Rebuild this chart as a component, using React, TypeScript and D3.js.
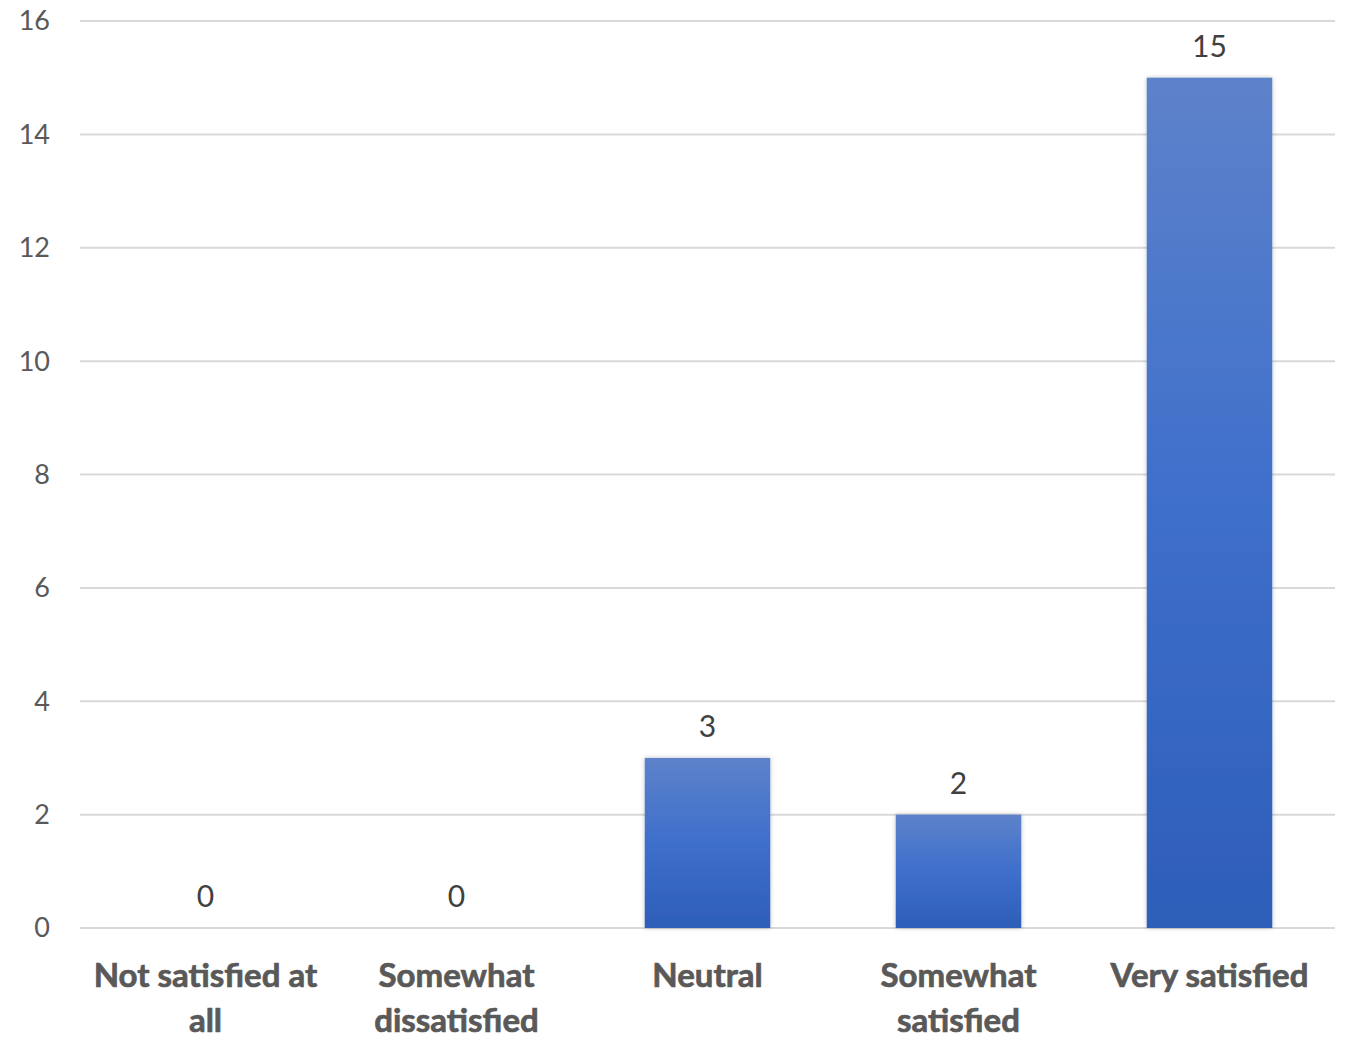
import { useEffect } from 'react';
import * as d3 from 'd3';

const categories = ['Not satisfied at all', 'Somewhat dissatisfied', 'Neutral', 'Somewhat satisfied', 'Very satisfied'];
const categoryLines = [['Not satisfied at', 'all'], ['Somewhat', 'dissatisfied'], ['Neutral'], ['Somewhat', 'satisfied'], ['Very satisfied']];
const counts = [0, 0, 3, 2, 15];
const yTicks = [0, 2, 4, 6, 8, 10, 12, 14, 16];

const W = 1348;
const H = 1038;
const M = { top: 21, right: 13, bottom: 110, left: 80 };
const FONT = 'Lato, "Open Sans", sans-serif';

export default function App() {
  useEffect(() => {
    document.body.style.margin = '0';
  }, []);

  const x = d3
    .scaleBand<string>()
    .domain(categories)
    .range([M.left, W - M.right])
    .paddingInner(0.5)
    .paddingOuter(0.25);
  const y = d3.scaleLinear().domain([0, 16]).range([H - M.bottom, M.top]);

  return (
    <svg width={W} height={H} style={{ display: 'block', background: '#fff' }}>
      <defs>
        <linearGradient id="barGrad" x1="0" y1="0" x2="0" y2="1">
          <stop offset="0%" stopColor="#5d82ca" />
          <stop offset="50%" stopColor="#3e6fcb" />
          <stop offset="100%" stopColor="#2d5eb8" />
        </linearGradient>
        <filter id="shadow" x="-10%" y="-10%" width="120%" height="120%">
          <feDropShadow dx="0" dy="0" stdDeviation="2" floodColor="#000" floodOpacity="0.25" />
        </filter>
      </defs>

      {/* gridlines */}
      {yTicks.map(t => (
        <line key={t} x1={M.left} x2={W - M.right} y1={y(t)} y2={y(t)} stroke="#d9d9d9" strokeWidth={2} />
      ))}

      {/* y tick labels */}
      {yTicks.map(t => (
        <text
          key={t}
          x={50}
          y={y(t)}
          dy="0.35em"
          textAnchor="end"
          fontFamily={FONT}
          fontSize={27}
          fill="#595959"
        >
          {t}
        </text>
      ))}

      {/* bars */}
      {categories.map((c, i) =>
        counts[i] > 0 ? (
          <rect
            key={c}
            x={x(c)!}
            y={y(counts[i])}
            width={x.bandwidth()}
            height={y(0) - y(counts[i])}
            fill="url(#barGrad)"
            filter="url(#shadow)"
          />
        ) : null,
      )}

      {/* value labels */}
      {categories.map((c, i) => (
        <text
          key={c}
          x={x(c)! + x.bandwidth() / 2}
          y={y(counts[i]) - 21}
          textAnchor="middle"
          fontFamily={FONT}
          fontSize={30}
          fill="#404040"
        >
          {counts[i]}
        </text>
      ))}

      {/* category labels */}
      {categories.map((c, i) => (
        <text
          key={c}
          x={x(c)! + x.bandwidth() / 2}
          textAnchor="middle"
          fontFamily={FONT}
          fontSize={33}
          fontWeight="bold"
          fill="#595959"
          stroke="#595959"
          strokeWidth={0.7}
        >
          {categoryLines[i].map((ln, j) => (
            <tspan key={j} x={x(c)! + x.bandwidth() / 2} y={987 + j * 45}>
              {ln}
            </tspan>
          ))}
        </text>
      ))}
    </svg>
  );
}
